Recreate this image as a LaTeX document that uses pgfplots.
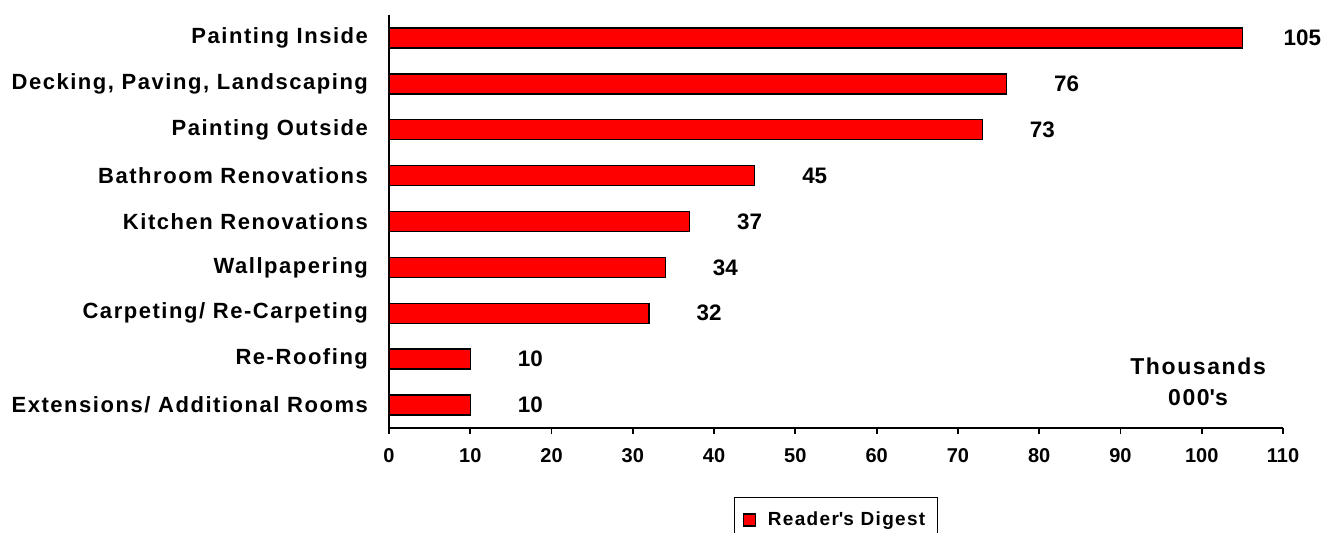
\documentclass[border=0pt]{standalone}
\usepackage{fontspec}
\setmainfont{Liberation Sans}
\newfontfamily\lsfont{Liberation Sans}[LetterSpace=7]
\usepackage{pgfplots}
\pgfplotsset{compat=1.18}
\begin{document}
\begin{tikzpicture}
\path[use as bounding box] (0,0) rectangle (665pt,266.5pt);
\begin{axis}[
  at={(194.5pt,52.5pt)}, anchor=south west,
  scale only axis, width=447pt, height=206.5pt,
  xbar, bar width=10pt,
  xmin=0, xmax=110, xtick={0,10,...,110},
  ymin=-0.5, ymax=8.5, ytick={0,...,8},
  yticklabels={Extensions/ Additional Rooms, Re-Roofing, Carpeting/ Re-Carpeting, Wallpapering, Kitchen Renovations, Bathroom Renovations, Painting Outside, {Decking, Paving, Landscaping}, Painting Inside},
  minor ytick={-0.5,0.5,...,8.5},
  axis x line*=bottom, axis y line*=left,
  axis line style={-, line width=0.9pt},
  tick align=outside, major tick length=3pt, minor tick length=3.5pt,
  ytick style={draw=none},
  minor y tick style={line width=0.9pt, black},
  x tick style={line width=0.9pt, black},
  /pgf/number format/assume math mode=true,
  xticklabel style={font=\bfseries\fontsize{10}{12}\selectfont, yshift=-3.5pt},
  yticklabel style={font=\lsfont\bfseries\fontsize{11}{13}\selectfont, xshift=-4pt},
  nodes near coords,
  nodes near coords style={font=\bfseries\fontsize{11.2}{13}\selectfont, anchor=center, xshift=30pt},
  legend style={at={(0.5,-0.167)}, anchor=north, draw=black, line width=0.75pt,
    font=\lsfont\bfseries\fontsize{9.5}{11}\selectfont, inner ysep=5pt, inner xsep=4pt,
    /tikz/every odd column/.append style={column sep=4pt}},
  legend image code/.code={\draw[fill=red, draw=black, line width=0.6pt] (0pt,-3pt) rectangle (6pt,3pt);},
]
\addplot[fill=red, draw=black, line width=0.75pt] coordinates {
  (10,0) (10,1) (32,2) (34,3) (37,4) (45,5) (73,6) (76,7) (105,8)};
\legend{Reader\textquotesingle s Digest}
\node[align=center, font=\lsfont\bfseries\fontsize{11.5}{15.5}\selectfont] at (rel axis cs:0.905,0.111) {Thousands\\000\textquotesingle s};
\end{axis}
\end{tikzpicture}
\end{document}
